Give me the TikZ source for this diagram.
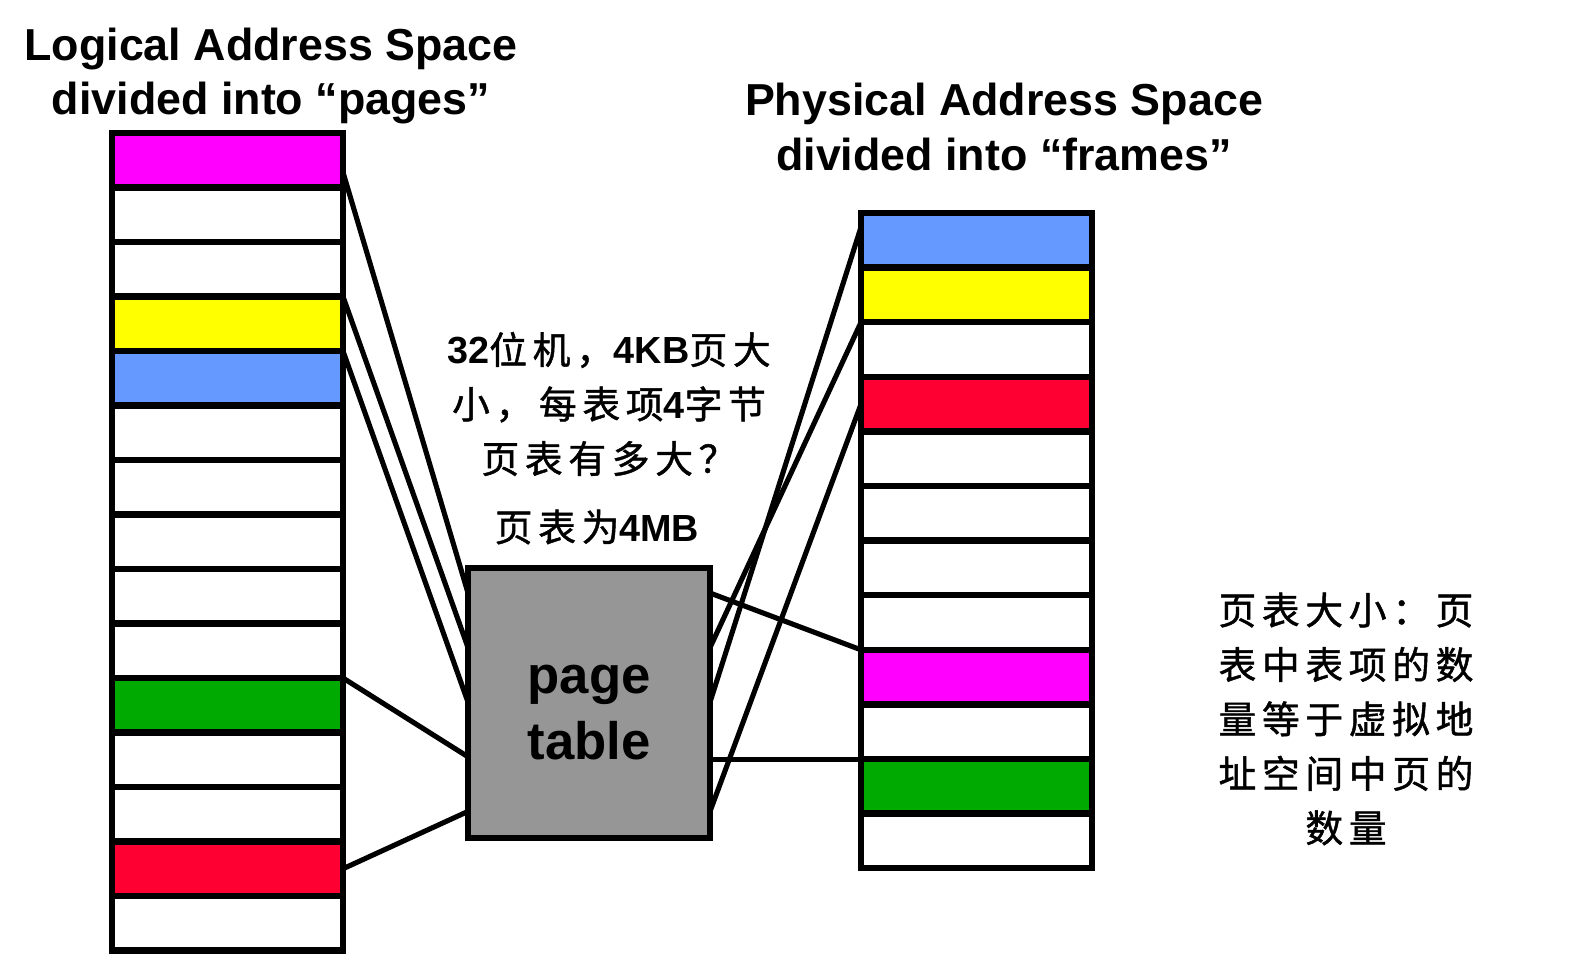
\documentclass[tikz,border=0pt]{standalone}
\usepackage{fontspec}
\setmainfont{Liberation Sans}
\newfontfamily\cjk[LetterSpace=15,FakeBold=1.2]{Noto Sans CJK SC}

\definecolor{pagemag}{RGB}{255,0,255}
\definecolor{pageyel}{RGB}{255,255,0}
\definecolor{pageblue}{RGB}{102,153,255}
\definecolor{pagered}{RGB}{255,0,51}
\definecolor{pagegreen}{RGB}{0,170,0}
\definecolor{tablegray}{RGB}{150,150,150}

\newcommand{\en}[1]{{\normalfont\bfseries #1}}

\begin{document}
\begin{tikzpicture}[x=0.02cm, y=-0.02cm,
  every node/.style={inner sep=0pt, outer sep=0pt},
  cell/.style={draw, line width=3.6pt, minimum width=4.62cm, minimum height=1.09cm},
  title/.style={font=\bfseries\fontsize{25.5}{31}\selectfont, align=center},
  note/.style={font=\cjk\fontsize{21.5}{31}\selectfont, align=center},
  link/.style={line width=2.9pt}
]
  \useasboundingbox (0,0) rectangle (1588,962);

  \node[title] (logtitle)  at (271,76)  {Logical Address Space\\divided into “pages”};
  \node[title] (phystitle) at (1004,127) {Physical Address Space\\divided into “frames”};

  % logical pages
  \foreach \c [count=\i from 0] in {pagemag,white,white,pageyel,pageblue,white,white,white,white,white,pagegreen,white,white,pagered,white}
    \node[cell, fill=\c] (page\i) at (227.5,{133+54.5*(\i+0.5)}) {};

  % physical frames
  \foreach \c [count=\i from 0] in {pageblue,pageyel,white,pagered,white,white,white,white,pagemag,white,pagegreen,white}
    \node[cell, fill=\c] (frame\i) at (976.5,{213+54.6*(\i+0.5)}) {};

  \node[draw, line width=3.8pt, fill=tablegray, minimum width=4.84cm, minimum height=5.4cm,
        font=\bfseries\fontsize{30}{37.6}\selectfont] (ptable) at (589,703)
        {\raisebox{0pt}[\dimexpr\height+0.4cm][\depth]{\begin{tabular}{@{}c@{}}page\\table\end{tabular}}};

  \foreach \i in {0,...,4} {
    \coordinate (in\i)  at (468,{593+54.6*\i});
    \coordinate (out\i) at (710,{593+54.6*\i});
  }

  \draw[link] ([yshift=-0.24cm]page0.east) -- (in0);
  \draw[link] (page3.north east) -- (in1);
  \draw[link] (page4.north east) -- (in2);
  \draw[link] (page10.north east) -- (in3);
  \draw[link] (page13.east) -- (in4);

  \draw[link] (out0) -- (frame8.north west);
  \draw[link] (out1) -- (frame2.north west);
  \draw[link] (out2) -- ([yshift=-0.28cm]frame0.north west);
  \draw[link] (out3 |- frame10.north west) -- (frame10.north west);
  \draw[link] (out4) -- (frame3.west);

  \node[note] (question) at (609,404) {\en{32}位机，\en{4KB}页大\\小，每表项\en{4}字节\\页表有多大？};
  \node[note] (answer)   at (597,527) {页表为\en{4MB}};
  \node[note] (remark)   at (1346,719) {页表大小：页\\表中表项的数\\量等于虚拟地\\址空间中页的\\数量};
\end{tikzpicture}
\end{document}
